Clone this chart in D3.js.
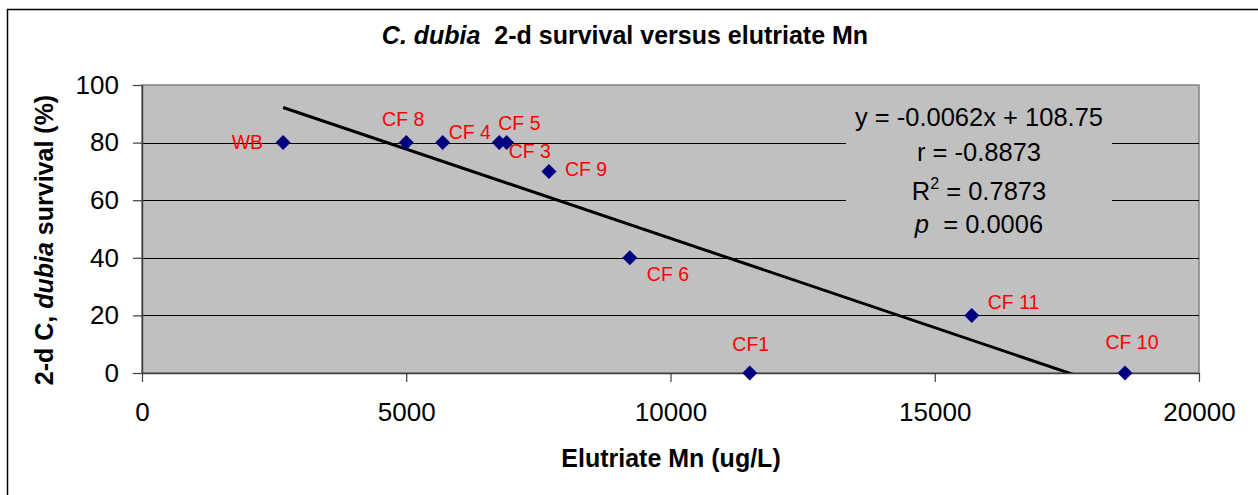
<!DOCTYPE html>
<html>
<head>
<meta charset="utf-8">
<script src="https://cdn.jsdelivr.net/npm/d3@7"></script>
<style>
  body { margin: 0; background: #fff; }
  svg { display: block; font-family: "Liberation Sans", Arial, sans-serif; }
  .pre { white-space: pre; }
</style>
</head>
<body>
<div id="chart"></div>
<script>
// sample sites and readings
const sites = ["WB", "CF 8", "CF 4", "CF 5", "CF 3", "CF 9", "CF 6", "CF1", "CF 11", "CF 10"];
const mn = [2670, 5000, 5690, 6760, 6900, 7700, 9230, 11500, 15700, 18600];
const survival = [80, 80, 80, 80, 80, 70, 40, 0, 20, 0];

const xTicks = [0, 5000, 10000, 15000, 20000];
const yTicks = [0, 20, 40, 60, 80, 100];

// trendline y = slope * x + intercept
const slope = -0.0062;
const intercept = 108.75;
const statLines = ["y = -0.0062x + 108.75", "r = -0.8873", " = 0.7873", "  = 0.0006"];

const width = 1258, height = 495;
const plot = {left: 142, right: 1199, top: 85, bottom: 373};

const svg = d3.select("#chart").append("svg")
    .attr("width", width)
    .attr("height", height);

// chart frame (runs off the right/bottom of the picture)
svg.append("rect")
    .attr("x", 7.5).attr("y", 9.5)
    .attr("width", 1300).attr("height", 520)
    .attr("fill", "#fff")
    .attr("stroke", "#000")
    .attr("stroke-width", 1.5);

const x = d3.scaleLinear().domain([0, 20000]).range([plot.left, plot.right]);
const y = d3.scaleLinear().domain([0, 100]).range([plot.bottom, plot.top]);

svg.append("rect")
    .attr("x", plot.left).attr("y", plot.top)
    .attr("width", plot.right - plot.left)
    .attr("height", plot.bottom - plot.top)
    .attr("fill", "#c0c0c0")
    .attr("stroke", "#808080")
    .attr("stroke-width", 1.5);

// gridlines
svg.append("g")
    .selectAll("line")
    .data(yTicks.filter(d => d > 0 && d < 100))
    .enter().append("line")
    .attr("x1", plot.left).attr("x2", plot.right)
    .attr("y1", d => Math.round(y(d)) + 0.5)
    .attr("y2", d => Math.round(y(d)) + 0.5)
    .attr("stroke", "#000")
    .attr("stroke-width", 1);

// trendline, clipped to plot
svg.append("clipPath").attr("id", "clip")
    .append("rect")
    .attr("x", plot.left).attr("y", plot.top)
    .attr("width", plot.right - plot.left)
    .attr("height", plot.bottom - plot.top);

const xMin = d3.min(mn), xMax = d3.max(mn);
svg.append("line")
    .attr("clip-path", "url(#clip)")
    .attr("x1", x(xMin)).attr("y1", y(slope * xMin + intercept))
    .attr("x2", x(xMax)).attr("y2", y(slope * xMax + intercept))
    .attr("stroke", "#000")
    .attr("stroke-width", 3);

// equation box covers the gridlines
const box = svg.append("g");
box.append("rect")
    .attr("x", 846).attr("y", 100)
    .attr("width", 266).attr("height", 145)
    .attr("fill", "#c0c0c0");

const eq = box.append("text")
    .attr("class", "pre")
    .attr("text-anchor", "middle")
    .attr("font-size", 25.5)
    .attr("fill", "#000");
eq.append("tspan").attr("x", 979).attr("y", 126).text(statLines[0]);
eq.append("tspan").attr("x", 979).attr("y", 161).text(statLines[1]);
const r2 = eq.append("tspan").attr("x", 979).attr("y", 200);
r2.append("tspan").text("R");
r2.append("tspan").attr("dy", -11).attr("font-size", 16).text("2");
r2.append("tspan").attr("dy", 11).text(statLines[2]);
const pl = eq.append("tspan").attr("x", 979).attr("y", 233);
pl.append("tspan").attr("font-style", "italic").text("p");
pl.append("tspan").text(statLines[3]);

// axes
const yAxis = d3.axisLeft(y).tickValues(yTicks).tickSizeInner(9).tickSizeOuter(0).tickPadding(14);
const xAxis = d3.axisBottom(x).tickValues(xTicks).tickFormat(d3.format("d"))
    .tickSizeInner(9).tickSizeOuter(0).tickPadding(21);

const gy = svg.append("g").attr("transform", `translate(${plot.left},0)`).call(yAxis);
const gx = svg.append("g").attr("transform", `translate(0,${plot.bottom})`).call(xAxis);

[gx, gy].forEach(g => {
    g.select(".domain").attr("stroke", "#404040").attr("stroke-width", 1.5);
    g.selectAll(".tick line").attr("stroke", "#404040").attr("stroke-width", 1.2);
    g.selectAll(".tick text")
        .attr("font-family", "Liberation Sans, Arial, sans-serif")
        .attr("font-size", 26)
        .attr("fill", "#000");
});

// points
const pts = mn.map((d, i) => ({site: sites[i], mn: d, s: survival[i]}));
const diamond = d3.symbol(d3.symbolSquare, 112);

svg.append("g")
    .selectAll("path")
    .data(pts)
    .enter().append("path")
    .attr("d", diamond)
    .attr("transform", d => `translate(${x(d.mn)},${y(d.s)}) rotate(45)`)
    .attr("fill", "#000080");

// label offsets from each point [dx, dy, anchor]
const labelPos = {
    "WB": [-20, 0, "end"],
    "CF 8": [-3, -23, "middle"],
    "CF 4": [6, -10, "start"],
    "CF 5": [-1, -19, "start"],
    "CF 3": [2, 9, "start"],
    "CF 9": [16, -2, "start"],
    "CF 6": [17, 16, "start"],
    "CF1": [1, -29, "middle"],
    "CF 11": [16, -13, "start"],
    "CF 10": [7, -31, "middle"]
};

svg.append("g")
    .selectAll("text")
    .data(pts)
    .enter().append("text")
    .attr("x", d => x(d.mn) + labelPos[d.site][0])
    .attr("y", d => y(d.s) + labelPos[d.site][1])
    .attr("dy", "0.35em")
    .attr("text-anchor", d => labelPos[d.site][2])
    .attr("font-size", 19.5)
    .attr("fill", "#ff0000")
    .text(d => d.site);

// titles
const title = svg.append("text")
    .attr("class", "pre")
    .attr("x", 625).attr("y", 44)
    .attr("text-anchor", "middle")
    .attr("font-size", 25)
    .attr("font-weight", "bold");
title.append("tspan").attr("font-style", "italic").text("C. dubia");
title.append("tspan").text("  2-d survival versus elutriate Mn");

svg.append("text")
    .attr("x", 671).attr("y", 467)
    .attr("text-anchor", "middle")
    .attr("font-size", 25)
    .attr("font-weight", "bold")
    .text("Elutriate Mn (ug/L)");

const yl = svg.append("text")
    .attr("transform", "translate(53,240) rotate(-90)")
    .attr("text-anchor", "middle")
    .attr("font-size", 25)
    .attr("font-weight", "bold");
yl.append("tspan").text("2-d C, ");
yl.append("tspan").attr("font-style", "italic").text("dubia");
yl.append("tspan").text(" survival (%)");
</script>
</body>
</html>
